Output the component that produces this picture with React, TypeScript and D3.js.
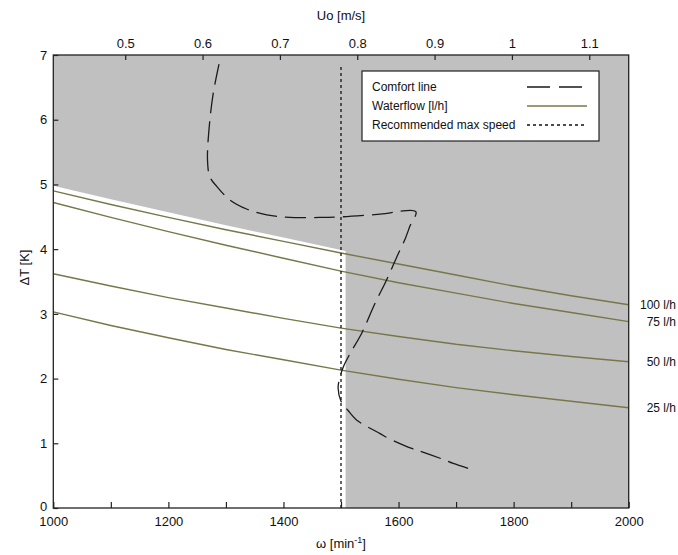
import { useEffect, useRef } from 'react';
import * as d3 from 'd3';

// rotational speed grid for the waterflow curves
const omega = [1000, 1100, 1200, 1300, 1400, 1500, 1600, 1700, 1800, 1900, 2000];
const flow100 = [4.9, 4.69, 4.49, 4.3, 4.12, 3.94, 3.77, 3.6, 3.43, 3.28, 3.14];
const flow75 = [4.72, 4.49, 4.27, 4.06, 3.86, 3.66, 3.48, 3.32, 3.16, 3.02, 2.88];
const flow50 = [3.62, 3.43, 3.25, 3.09, 2.93, 2.78, 2.65, 2.53, 2.43, 2.34, 2.26];
const flow25 = [3.03, 2.82, 2.63, 2.45, 2.29, 2.13, 1.99, 1.86, 1.75, 1.65, 1.55];
const flowLabels = ['100 l/h', '75 l/h', '50 l/h', '25 l/h'];

// comfort line
const comfortOmega = [
  1288, 1278, 1271, 1268, 1272, 1284, 1307, 1336, 1371, 1411, 1463, 1502, 1568, 1630,
  1620, 1612, 1597, 1579, 1559, 1536, 1516, 1504, 1497, 1495, 1500, 1512, 1527, 1568,
  1582, 1623, 1637, 1678, 1695, 1733,
];
const comfortDT = [
  6.86, 6.41, 5.89, 5.38, 5.12, 4.97, 4.76, 4.62, 4.53, 4.49, 4.49, 4.5, 4.54, 4.58,
  4.36, 4.17, 3.88, 3.52, 3.16, 2.7, 2.39, 2.18, 1.98, 1.85, 1.65, 1.51, 1.36, 1.15,
  1.08, 0.92, 0.88, 0.75, 0.69, 0.58,
];

// white (acceptable) zone upper edge
const whiteOmega = [1000, 1100, 1200, 1300, 1400, 1508];
const whiteDT = [4.98, 4.77, 4.57, 4.37, 4.18, 3.97];

// recommended max speed
const maxSpeed = 1500;
const maxSpeedTop = 6.86;

const omegaTicks = [1000, 1100, 1200, 1300, 1400, 1500, 1600, 1700, 1800, 1900, 2000];
const uoTicks = [0.5, 0.6, 0.7, 0.8, 0.9, 1, 1.1];
const dtTicks = [0, 1, 2, 3, 4, 5, 6, 7];
const legendLabels = ['Comfort line', 'Waterflow [l/h]', 'Recommended max speed'];

const FONT = "'Liberation Sans', Arial, sans-serif";
const GRAY = '#c0c0c0';
const OLIVE = '#77774b';

export default function App() {
  const bottomRef = useRef<SVGGElement>(null);
  const leftRef = useRef<SVGGElement>(null);
  const topRef = useRef<SVGGElement>(null);

  const left = 53.3;
  const right = 628.7;
  const top = 55;
  const bottom = 508;

  const x = d3.scaleLinear().domain([1000, 2000]).range([left, right]);
  const y = d3.scaleLinear().domain([0, 7]).range([bottom, top]);
  const u = d3.scaleLinear().domain([0.407, 1.151]).range([left, right]);

  useEffect(() => {
    const style = (g: d3.Selection<SVGGElement, unknown, null, undefined>) => {
      g.select('.domain').remove();
      g.selectAll('line').attr('stroke', '#222').attr('stroke-width', 1.2);
      g.selectAll('text').attr('font-size', 13).attr('fill', '#111').attr('font-family', FONT);
    };

    d3.select(bottomRef.current!)
      .call(
        d3
          .axisBottom(x)
          .tickValues(omegaTicks)
          .tickSize(-6)
          .tickPadding(9)
          .tickFormat(d => ((d as number) % 200 === 0 ? String(d) : ''))
      )
      .call(style);

    d3.select(leftRef.current!)
      .call(d3.axisLeft(y).tickValues(dtTicks).tickSize(-5).tickPadding(6).tickFormat(d => String(d)))
      .call(style);
    // lift the "0" a little so it clears the "1000" below it
    d3.select(leftRef.current!)
      .selectAll<SVGTextElement, number>('text')
      .filter(d => d === 0)
      .attr('dy', '0.2em');

    d3.select(topRef.current!)
      .call(d3.axisTop(u).tickValues(uoTicks).tickSize(-5).tickPadding(7).tickFormat(d => String(d)))
      .call(style);
  }, []);

  const flows = [flow100, flow75, flow50, flow25];
  const line = d3
    .line<[number, number]>()
    .x(d => x(d[0]))
    .y(d => y(d[1]));
  const smooth = d3
    .line<[number, number]>()
    .x(d => x(d[0]))
    .y(d => y(d[1]))
    .curve(d3.curveCatmullRom.alpha(0.5));
  const whiteArea = d3
    .area<[number, number]>()
    .x(d => x(d[0]))
    .y0(y(0))
    .y1(d => y(d[1]));

  const comfort = comfortOmega.map((w, i) => [w, comfortDT[i]] as [number, number]);
  const white = whiteOmega.map((w, i) => [w, whiteDT[i]] as [number, number]);

  // legend box
  const lgX = 362;
  const lgY = 71;
  const lgW = 237;
  const lgH = 70;

  return (
    <svg
      width={678}
      height={555}
      style={{ position: 'absolute', left: 0, top: 0, background: '#fff' }}
      fontFamily={FONT}
    >
      <defs>
        <clipPath id="plot">
          <rect x={left} y={top} width={right - left} height={bottom - top} />
        </clipPath>
      </defs>

      <rect x={left} y={top} width={right - left} height={bottom - top} fill={GRAY} />
      <path d={whiteArea(white)!} fill="#fff" />

      <g clipPath="url(#plot)">
        {flows.map((f, i) => (
          <path
            key={flowLabels[i]}
            d={line(omega.map((w, j) => [w, f[j]] as [number, number]))!}
            fill="none"
            stroke={OLIVE}
            strokeWidth={1.4}
          />
        ))}
        <line
          x1={x(maxSpeed)}
          x2={x(maxSpeed)}
          y1={y(0)}
          y2={y(maxSpeedTop)}
          stroke="#111"
          strokeWidth={1.3}
          strokeDasharray="3 3"
        />
        <path d={smooth(comfort)!} fill="none" stroke="#1a1a1a" strokeWidth={1.3} strokeDasharray="21 8" />
      </g>

      <rect
        x={left}
        y={top}
        width={right - left}
        height={bottom - top}
        fill="none"
        stroke="#222"
        strokeWidth={1.3}
      />

      <g ref={bottomRef} transform={`translate(0,${bottom})`} />
      <g ref={leftRef} transform={`translate(${left},0)`} />
      <g ref={topRef} transform={`translate(0,${top})`} />

      {flows.map((f, i) => (
        <text
          key={flowLabels[i]}
          x={676}
          y={y(f[f.length - 1])}
          dy="0.35em"
          textAnchor="end"
          fontSize={12}
          fill="#111"
        >
          {flowLabels[i]}
        </text>
      ))}

      {/* legend */}
      <rect x={lgX} y={lgY} width={lgW} height={lgH} fill="#fff" stroke="#222" strokeWidth={1.2} />
      {legendLabels.map((l, i) => {
        const cy = lgY + 16 + i * 19;
        return (
          <g key={l}>
            <text x={lgX + 10} y={cy} dy="0.35em" fontSize={12} fill="#111">
              {l}
            </text>
            {i === 0 && (
              <line x1={527} x2={587} y1={cy} y2={cy} stroke="#1a1a1a" strokeWidth={1.3} strokeDasharray="23 9" />
            )}
            {i === 1 && <line x1={527} x2={587} y1={cy} y2={cy} stroke={OLIVE} strokeWidth={1.4} />}
            {i === 2 && (
              <line x1={527} x2={587} y1={cy} y2={cy} stroke="#111" strokeWidth={1.3} strokeDasharray="3 3" />
            )}
          </g>
        );
      })}

      {/* axis titles */}
      <text x={(left + right) / 2} y={20} textAnchor="middle" fontSize={13} fill="#111">
        Uo [m/s]
      </text>
      <text x={(left + right) / 2} y={548} textAnchor="middle" fontSize={13} fill="#111">
        ω [min
        <tspan dy={-5} fontSize={9}>
          -1
        </tspan>
        <tspan dy={5}>]</tspan>
      </text>
      <text
        transform={`translate(29,${(top + bottom) / 2 - 14}) rotate(-90)`}
        textAnchor="middle"
        fontSize={13}
        fill="#111"
      >
        ΔT [K]
      </text>
    </svg>
  );
}
